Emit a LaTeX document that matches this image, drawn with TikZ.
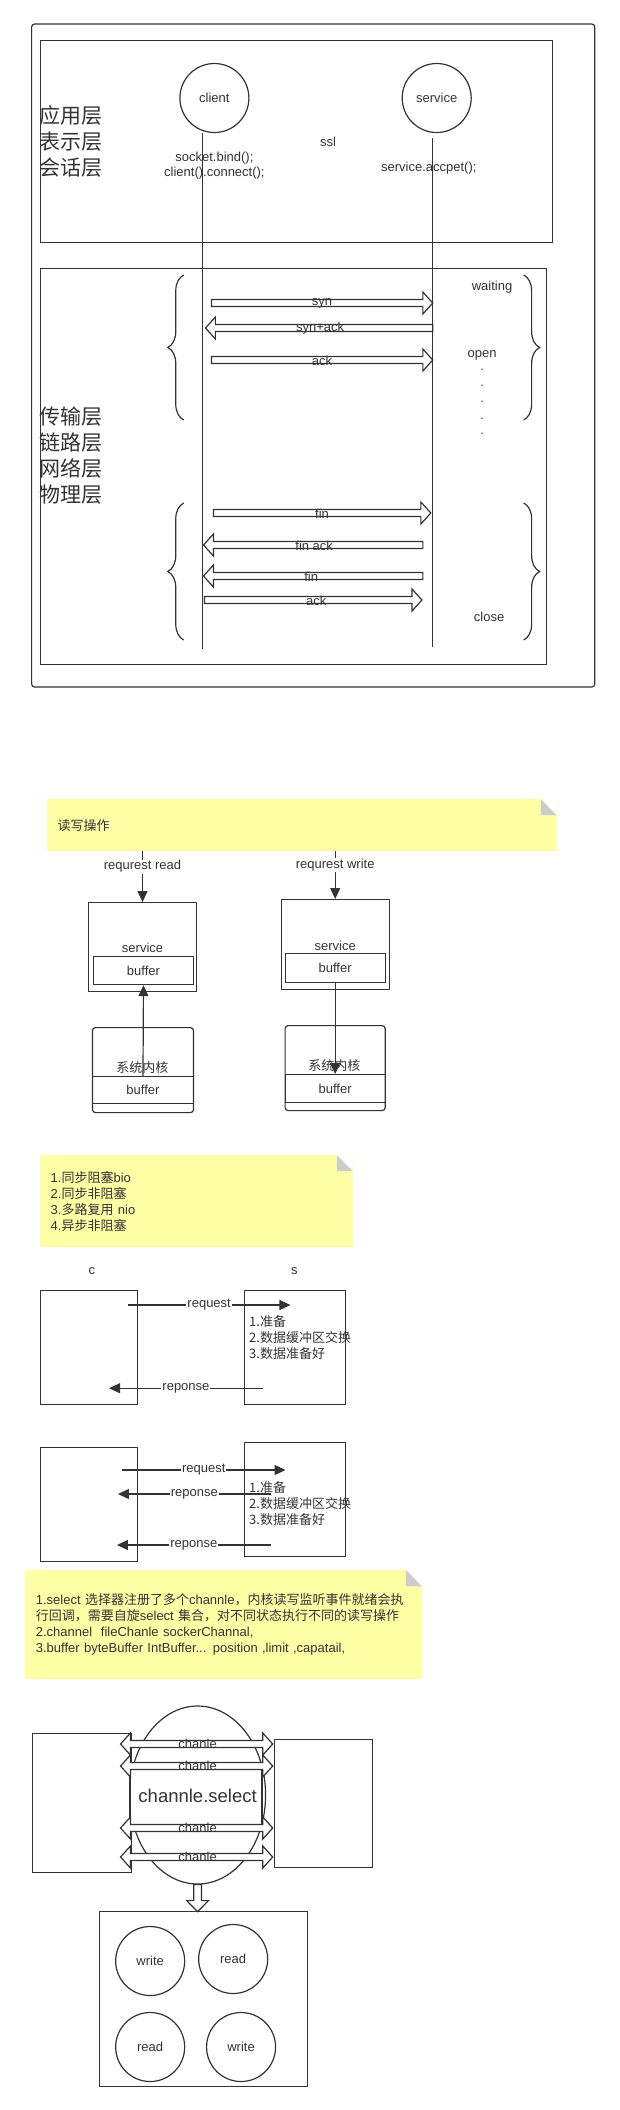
\documentclass[tikz,border=0pt]{standalone}
\usepackage{fontspec}
\setmainfont{Liberation Sans}
\newfontfamily\cjk{Noto Sans CJK SC}
\usepackage{tikz}
\usetikzlibrary{
	arrows.meta,
	calc,
	decorations.pathreplacing,
	positioning,
	shapes.geometric,
}
\definecolor{ink}{HTML}{333333}
\definecolor{notey}{HTML}{FFFFA6}
\definecolor{foldgray}{HTML}{CCCCCC}
\newcommand{\zh}[1]{{\cjk #1}}
\newcommand{\fatarrow}[3]{%
	\pgfmathsetmacro\fh{#2>#1 ? #2-10 : #2+10}%
	\draw[fat] (#1,#3-3.5) -- (\fh,#3-3.5) -- (\fh,#3-11) -- (#2,#3) -- (\fh,#3+11) -- (\fh,#3+3.5) -- (#1,#3+3.5) -- cycle;}
\newcommand{\fatdouble}[3]{%
	\draw[fat] (#1,#3) -- (#1+10,#3-11) -- (#1+10,#3-3.5) -- (#2-10,#3-3.5) -- (#2-10,#3-11) -- (#2,#3) -- (#2-10,#3+11) -- (#2-10,#3+3.5) -- (#1+10,#3+3.5) -- (#1+10,#3+11) -- cycle;}
\tikzset{
	every node/.append style={text=ink},
	box/.style={draw=ink, line width=1.2pt, anchor=north west, inner sep=0pt},
	ring/.style={draw=ink, line width=1.2pt, circle, minimum size=69pt, inner sep=0pt},
	fat/.style={draw=ink, line width=1.2pt, fill=white},
	arr/.style={draw=ink, line width=1.2pt, -{Triangle[length=11pt,width=10pt]}},
	lbl/.style={inner sep=1pt},
	curly/.style={draw=ink, line width=1.2pt, decorate, decoration={brace, amplitude=16pt}},
	layer/.style={anchor=west, align=left, inner sep=0pt, font=\cjk\fontsize{21}{26}\selectfont},
	note/.style={fill=notey, anchor=north west, inner xsep=11pt, inner ysep=0pt, align=left,
		font=\fontsize{13}{16}\selectfont,
		path picture={
			\fill[white] (path picture bounding box.north east) -- ++(-16,0) -- ++(16,16) -- cycle;
			\fill[foldgray] (path picture bounding box.north east) ++(-16,0) -- ++(0,16) -- ++(16,0) -- cycle;}},
}

\begin{document}
\begin{tikzpicture}[x=0.988pt, y=-1pt, font=\fontsize{13}{15}\selectfont]
	\useasboundingbox (0pt,0pt) rectangle (620pt,-2110pt);

	\draw[ink, line width=1.2pt, rounded corners=3pt] (32,24) rectangle (602,687);
	\node[box, minimum width=512pt, minimum height=202pt] (app) at (40,40) {};
	\node[box, minimum width=506pt, minimum height=396pt] (trans) at (40,268) {};
	\node[layer] (upper) at (40,142) {应用层\\表示层\\会话层};
	\node[layer] (lower) at (40,456) {传输层\\链路层\\网络层\\物理层};

	\node[ring, minimum width=69pt, minimum height=67pt] (client) at (217,98) {client};
	\node[ring, minimum width=69pt, minimum height=67pt] (service) at (442,98) {service};
	\node[lbl] (ssl) at (332,142) {ssl};
	\node[lbl, align=center] (bind) at (217,166) {socket.bind();\\client().connect();};
	\node[lbl] (accept) at (434,168) {service.accpet();};
	\draw[ink, line width=1.2pt] ([xshift=-12pt]client.south) -- ++(0,516);
	\draw[ink, line width=1.2pt] ([shift={(-4,5)}]service.south) -- ++(0,509);

	\draw[curly] (186,420) -- (186,275);
	\draw[curly] (530,275) -- (530,420);
	\draw[curly] (186,640) -- (186,503);
	\draw[curly] (530,503) -- (530,640);

	\fatarrow{214}{438}{303}
	\fatarrow{438}{208}{328}
	\fatarrow{214}{438}{360}
	\fatarrow{216}{436}{513}
	\fatarrow{428}{206}{545}
	\fatarrow{428}{206}{576}
	\fatarrow{207}{427}{600}
	\node[lbl] (syn) at (326,303) {syn};
	\node[lbl] (synack) at (324,328) {syn+ack};
	\node[lbl] (ack) at (326,361) {ack};
	\node[lbl] (fin) at (326,514) {fin};
	\node[lbl] (finack) at (318,546) {fin ack};
	\node[lbl] (fin2) at (315,577) {fin};
	\node[lbl] (ack2) at (320,601) {ack};

	\node[lbl] (waiting) at (498,287) {waiting};
	\node[lbl] (open) at (488,355) {open};
	\foreach \y in {370,386,402,419,434}
		\node[lbl, inner sep=0pt] at (488,\y) {.};
	\node[lbl] (close) at (495,617) {close};

	\node[note, text width=488pt, minimum height=52pt] (note1) at (47,799) {\zh{读写操作}};
	\node[box, minimum width=108pt, minimum height=89pt] (svcL) at (89,902) {};
	\node[lbl] (svcLt) at ($(svcL.north)+(0,46)$) {service};
	\node[box, minimum width=100pt, minimum height=28pt] (bufL) at (94,956) {buffer};
	\node[box, minimum width=108pt, minimum height=90pt] (svcR) at (284,899) {};
	\node[lbl] (svcRt) at ($(svcR.north)+(0,47)$) {service};
	\node[box, minimum width=100pt, minimum height=29pt] (bufR) at (288,953) {buffer};

	\node[box, rounded corners=3pt, minimum width=101pt, minimum height=85pt] (kernL) at (93,1027) {};
	\node[lbl, font=\cjk\fontsize{13}{15}\selectfont] (kernLt) at (144,1068) {系统内核};
	\node[box, minimum width=101pt, minimum height=27pt] (kbufL) at (93,1076) {buffer};
	\node[box, rounded corners=3pt, minimum width=100pt, minimum height=85pt] (kernR) at (288,1025) {};
	\node[lbl, font=\cjk\fontsize{13}{15}\selectfont] (kernRt) at (338.5,1066) {系统内核};
	\node[box, minimum width=100pt, minimum height=28pt] (kbufR) at (288,1074) {buffer};

	\draw[arr] (svcL.north |- note1.south) -- node[lbl, fill=white, pos=0.3] {requrest read} (svcL.north);
	\draw[arr] (svcR.north |- note1.south) -- node[lbl, fill=white, pos=0.28] {requrest write} (svcR.north);
	\draw[arr] (kbufL.north) -- (bufL.south);
	\draw[arr] (bufR.south) -- (kbufR.north);

	\node[note, text width=291pt, minimum height=92pt] (note2) at (40,1155)
		{1.\zh{同步阻塞}bio\\2.\zh{同步非阻塞}\\3.\zh{多路复用} nio\\4.\zh{异步非阻塞}};
	\node[lbl] (c) at (93,1271) {c};
	\node[lbl] (s) at (298,1271) {s};
	\node[box, minimum width=97pt, minimum height=114pt] (cBox1) at (40,1290) {};
	\node[box, minimum width=101pt, minimum height=114pt] (sBox1) at (247,1290) {};
	\node[layer, font=\cjk\fontsize{13}{16}\selectfont] (steps1) at (252,1338) {1.准备\\2.数据缓冲区交换\\3.数据准备好};
	\draw[arr] ($(cBox1.north east)+(-10,15)$) -- node[lbl, fill=white] {request} ($(sBox1.north west)+(47,15)$);
	\draw[arr] ($(sBox1.south west)+(19,-17)$) -- node[lbl, fill=white] {reponse} ($(cBox1.south east)+(-29,-17)$);

	\node[box, minimum width=97pt, minimum height=114pt] (cBox2) at (40,1447) {};
	\node[box, minimum width=101pt, minimum height=114pt] (sBox2) at (247,1442) {};
	\node[layer, font=\cjk\fontsize{13}{16}\selectfont] (steps2) at (252,1504) {1.准备\\2.数据缓冲区交换\\3.数据准备好};
	\draw[arr] ($(cBox2.north east)+(-16,23)$) -- node[lbl, fill=white] {request} ($(sBox2.north west)+(42,28)$);
	\draw[arr] ($(sBox2.north west)+(27,52)$) -- node[lbl, fill=white] {reponse} ($(cBox2.north east)+(-20,47)$);
	\draw[arr] ($(sBox2.north west)+(27,103)$) -- node[lbl, fill=white] {reponse} ($(cBox2.north east)+(-21,98)$);

	\node[note, text width=375pt, minimum height=109pt] (note3) at (25,1570)
		{1.select \zh{选择器注册了多个}channle\zh{，内核读写监听事件就绪会执}\\
		\zh{行回调，需要自旋}select \zh{集合，对不同状态执行不同的读写操作}\\
		2.channel\ \ fileChanle sockerChannal,\\
		3.buffer byteBuffer IntBuffer... position ,limit ,capatail,};

	\node[draw=ink, line width=1.2pt, ellipse, minimum width=136pt, minimum height=178pt] (sel) at (200,1795) {};
	\node[box, minimum width=99pt, minimum height=139pt] (leftBox) at (32,1733) {};
	\node[box, minimum width=98pt, minimum height=128pt] (rightBox) at (277,1739) {};
	\node[box, fill=white, minimum width=132pt, minimum height=62pt] (selBox) at (131,1766) {};
	\node[lbl, font=\fontsize{18.5}{20}\selectfont] (selText) at (200,1796) {channle.select};
	\foreach \y in {1744,1766,1828,1857} {
		\fatdouble{122}{276}{\y}
		\node[lbl] at (200,\y) {chanle};
	}
	\node[box, minimum width=208pt, minimum height=175pt] (pool) at (100,1911) {};
	\draw[fat] (sel.south) ++(-4,0) -- ++(0,16) -- ++(-7,0) -- ++(11,11) -- ++(11,-11) -- ++(-7,0) -- ++(0,-16) -- cycle;
	\node[ring] (write1) at (152,1961) {write};
	\node[ring] (read1) at (236,1959) {read};
	\node[ring] (read2) at (152,2047) {read};
	\node[ring] (write2) at (244,2047) {write};
\end{tikzpicture}
\end{document}
